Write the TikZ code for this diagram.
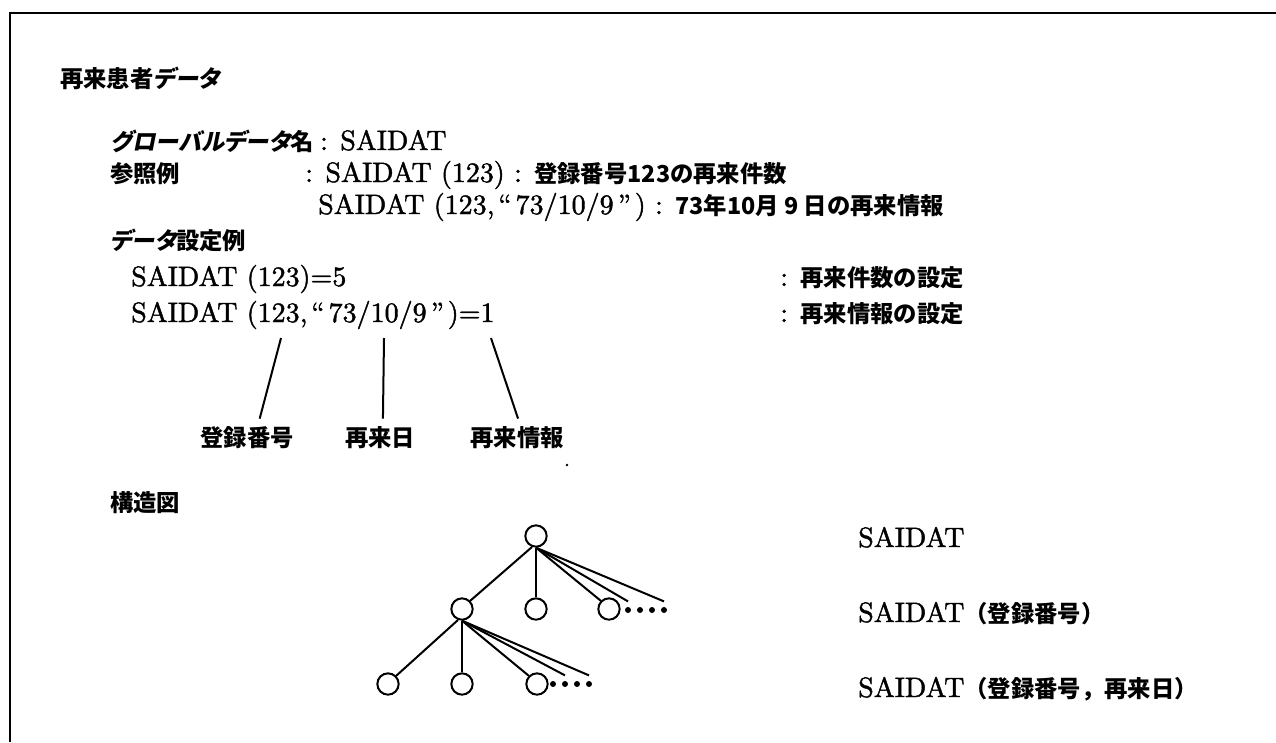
\documentclass[tikz,border=0pt]{standalone}
\usepackage{fontspec}
\newfontfamily\latfont{lmroman10-regular.otf}[Ligatures=TeX,FakeBold=1.5]
\newfontfamily\cjkfont{Noto Sans CJK JP}
\newfontfamily\cjkslfont{Noto Sans CJK JP}[FakeSlant=0.2,RawFeature=+palt]
\newcommand\cjkb[1]{{\cjkfont\bfseries\fontsize{17.5}{21}\selectfont #1}}
\newcommand\katak[1]{{\cjkslfont\bfseries\fontsize{17.5}{21}\selectfont #1}}
\newcommand\qsp{\hspace{3pt}}
\tikzset{
  txt/.style={anchor=base west, inner sep=0pt, font=\latfont\fontsize{21}{25}\selectfont},
  lab/.style={anchor=center, inner sep=0pt},
  circ/.style={circle, draw, line width=1.5pt, minimum size=16pt, inner sep=0pt},
  dotn/.style={circle, fill, inner sep=0pt, minimum size=4.5pt},
  conn/.style={line width=1.5pt},
}
\begin{document}
\begin{tikzpicture}[x=0.75pt,y=-0.75pt]
\useasboundingbox (0,0) rectangle (1276,742);
% frame
\draw[line width=2pt] (10,742) -- (10,13) -- (1276,13);
% texts
\node[txt] (title) at (60,87) {\cjkb{再来患者}\katak{データ}};
\node[txt] (gname) at (110,150) {\katak{グローバルデータ}\cjkb{名}\hspace{5pt}: SAIDAT};
\node[txt] (ref) at (110,182) {\cjkb{参照例}};
\node[txt] (ref1) at (305,182) {: SAIDAT (123) : \cjkb{登録番号123の再来件数}};
\node[txt] (ref2) at (318,214) {SAIDAT (123,\qsp``\qsp73/10/9\qsp''\qsp) : \cjkb{73年10月 9 日の再来情報}};
\node[txt] (set) at (110,249) {\katak{データ}\cjkb{設定例}};
\node[txt] (s1) at (131,286) {SAIDAT (123)=5};
\node[txt] (c1) at (780,286) {: \cjkb{再来件数の設定}};
\node[txt] (s2) at (131,322) {SAIDAT (123,\qsp``\qsp73/10/9\qsp''\qsp)=1};
\node[txt] (c2) at (780,322) {: \cjkb{再来情報の設定}};
% labels
\node[lab] (L1) at (247,438) {\cjkb{登録番号}};
\node[lab] (L2) at (380,438) {\cjkb{再来日}};
\node[lab] (L3) at (517,438) {\cjkb{再来情報}};
\coordinate (t1) at (281,338);
\coordinate (t2) at (384,338);
\coordinate (t3) at (491,338);
\draw[conn] (t1) -- ([xshift=9.5pt,yshift=6pt]L1.north);
\draw[conn] (t2) -- ([xshift=2.2pt,yshift=6pt]L2.north);
\draw[conn] (t3) -- ([xshift=0.8pt,yshift=6pt]L3.north);
\node[circle, fill, inner sep=0pt, minimum size=2pt] (speck) at (567,465) {};
\node[txt] (struct) at (110,511) {\cjkb{構造図}};
% tree
\node[circ] (r) at (536,536) {};
\node[circ] (a1) at (462,609) {};
\node[circ] (a2) at (536,609) {};
\node[circ] (a3) at (609,609) {};
\node[circ] (b1) at (388,684) {};
\node[circ] (b2) at (462,684) {};
\node[circ] (b3) at (537,684) {};
\foreach \i/\x in {1/628,2/640,3/652,4/664} \node[dotn] (da\i) at (\x,610) {};
\foreach \i/\x in {1/553,2/565,3/577,4/589} \node[dotn] (db\i) at (\x,684) {};
\draw[conn] (r.250) -- (a1.45);
\draw[conn] (r.south) -- (a2.north);
\draw[conn] (r.south) -- (a3.135);
\draw[conn] (r.south) -- ([yshift=4pt]da1.north);
\draw[conn] (r.south) -- ([yshift=4pt]da4.north);
\draw[conn] (a1.250) -- (b1.45);
\draw[conn] (a1.south) -- (b2.north);
\draw[conn] (a1.south) -- (b3.135);
\draw[conn] (a1.south) -- ([yshift=4pt]db2.north);
\draw[conn] (a1.south) -- ([yshift=4pt]db4.north);
% right labels
\node[txt] (n0) at (858,547) {SAIDAT};
\node[txt] (n1) at (858,622) {SAIDAT\cjkb{（登録番号）}};
\node[txt] (n2) at (858,697) {SAIDAT\cjkb{（登録番号，再来日）}};
\end{tikzpicture}
\end{document}
